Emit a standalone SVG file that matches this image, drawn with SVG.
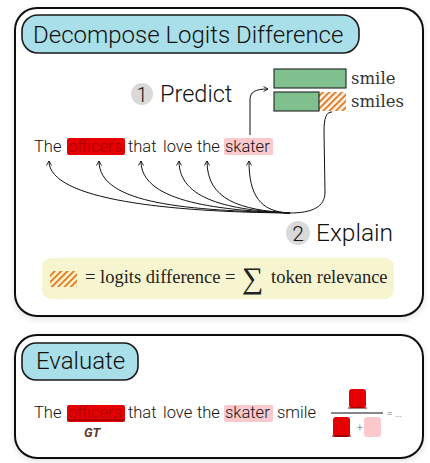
<svg xmlns="http://www.w3.org/2000/svg" width="430" height="463" viewBox="0 0 430 463">
<style>
.box{fill:#fff;stroke:#111;stroke-width:2}
.pill{fill:#a9dfe8;stroke:#1a1a1a;stroke-width:1.6}
.title{font-family:Roboto,"Liberation Sans",sans-serif;font-weight:300;fill:#111}
.sent{font-family:Roboto,"Liberation Sans",sans-serif;font-weight:300;font-size:16.5px;fill:#111}
.serif{font-family:"Liberation Serif","DejaVu Serif",serif;fill:#222}
.slab{font-family:"DejaVu Serif",serif;fill:#333}
.conn{fill:none;stroke:#111;stroke-width:1}
.num{fill:#d9d9d9}
</style>
<defs>
<pattern id="hatch" patternUnits="userSpaceOnUse" width="4.5" height="4.5" patternTransform="rotate(45)">
<line x1="1" y1="0" x2="1" y2="4.5" stroke="#e07b24" stroke-width="1.9"/>
</pattern>
<marker id="ah" markerWidth="6" markerHeight="6" refX="5" refY="3" orient="auto" markerUnits="userSpaceOnUse">
<path d="M0.5,0.5 L5,3 L0.5,5.5" fill="none" stroke="#111" stroke-width="0.9"/>
</marker>
<filter id="sh" x="-5%" y="-5%" width="110%" height="115%">
<feDropShadow dx="0" dy="2" stdDeviation="3" flood-color="#000" flood-opacity="0.12"/>
</filter>
</defs>

<g id="panel-decompose">
<rect class="box" x="15" y="8" width="408" height="308" rx="22" filter="url(#sh)"/>
</g>
<g id="title-decompose">
<rect class="pill" x="22" y="15" width="337" height="38" rx="16"/>
<text class="title" x="33" y="43" font-size="24">Decompose Logits Difference</text>
</g>

<g id="step-predict">
<circle class="num" cx="142" cy="94" r="11"/>
<text class="title" x="142" y="101.5" font-size="20" text-anchor="middle" fill="#333">1</text>
<text class="title" x="160" y="102" font-size="23.5">Predict</text>
</g>

<g id="bars">
<rect x="274" y="69" width="72" height="19" fill="#80c08f" stroke="#222" stroke-width="1.1"/>
<rect x="319" y="92" width="27" height="19" fill="#fdf3ea"/>
<rect x="319" y="92" width="27" height="19" fill="url(#hatch)"/>
<rect x="274" y="92" width="45" height="19" fill="#80c08f" stroke="#222" stroke-width="1.1"/>
<text class="slab" x="351" y="84" font-size="16.5">smile</text>
<text class="slab" x="351" y="107" font-size="16.5">smiles</text>
</g>

<g id="sentence-1">
<rect x="67" y="138" width="58" height="17" rx="2" fill="#e60000"/>
<rect x="224" y="138" width="49" height="17" rx="2" fill="#f9c9cd"/>
<text class="sent" y="152"><tspan x="34">The</tspan><tspan x="68" fill="#a80000">officers</tspan><tspan x="128">that</tspan><tspan x="163">love</tspan><tspan x="197">the</tspan><tspan x="225">skater</tspan></text>
</g>

<g id="step-explain">
<circle class="num" cx="298" cy="233" r="12"/>
<text class="title" x="298" y="241" font-size="21" text-anchor="middle" fill="#333">2</text>
<text class="title" x="316" y="241" font-size="24.5">Explain</text>
</g>

<g id="connectors">
<path class="conn" d="M250,135 L250,100 C250,92 255,89 268,89" marker-end="url(#ah)"/>
<path class="conn" d="M332,112 C326,112 324,118 324,132 L325,192 C325,207 312,213 290,213"/>
<path class="conn" d="M290,213 C170,212 49,200 49,161" marker-end="url(#ah)"/>
<path class="conn" d="M290,213 C190,210 99,205 99,161" marker-end="url(#ah)"/>
<path class="conn" d="M290,213 C210,210 141,200 141,161" marker-end="url(#ah)"/>
<path class="conn" d="M290,213 C230,210 179,200 179,161" marker-end="url(#ah)"/>
<path class="conn" d="M290,213 C240,210 207,200 207,161" marker-end="url(#ah)"/>
<path class="conn" d="M290,213 C260,212 249,195 249,161" marker-end="url(#ah)"/>
</g>

<g id="legend">
<rect x="42" y="258" width="352" height="41" rx="9" fill="#f6f5d0"/>
<rect x="50" y="271" width="27" height="16" fill="url(#hatch)"/>
<text class="serif" x="85" y="283" font-size="18.5" fill="#111">= logits difference =</text>
<text class="serif" x="242" y="288" font-size="30" fill="#111">∑</text>
<text class="serif" x="271" y="283" font-size="18.5" fill="#111">token relevance</text>
</g>

<g id="panel-evaluate">
<rect class="box" x="15" y="335" width="408" height="123" rx="22" filter="url(#sh)"/>
</g>
<g id="title-evaluate">
<rect class="pill" x="22" y="343" width="116" height="37" rx="14"/>
<text class="title" x="36" y="369" font-size="24">Evaluate</text>
</g>

<g id="sentence-2">
<rect x="67" y="405" width="58" height="17" rx="2" fill="#e60000"/>
<rect x="224" y="405" width="49" height="17" rx="2" fill="#f9c9cd"/>
<line x1="67" y1="420" x2="125" y2="420" stroke="#7a0000" stroke-width="1"/>
<text class="sent" y="418"><tspan x="34">The</tspan><tspan x="68" fill="#a80000">officers</tspan><tspan x="128">that</tspan><tspan x="163">love</tspan><tspan x="197">the</tspan><tspan x="225">skater</tspan><tspan x="277">smile</tspan></text>
<text x="84" y="437" font-family="Roboto,'Liberation Sans',sans-serif" font-weight="700" font-style="italic" font-size="13" fill="#5b3a2e">GT</text>
</g>

<g id="fraction">
<rect x="349" y="389" width="17" height="19" rx="3" fill="#e60000"/>
<line x1="348" y1="408" x2="367" y2="408" stroke="#5a0000" stroke-width="1"/>
<line x1="331" y1="413" x2="383" y2="413" stroke="#111" stroke-width="1"/>
<rect x="333" y="417" width="17" height="20" rx="3" fill="#e60000"/>
<line x1="332" y1="436" x2="351" y2="436" stroke="#5a0000" stroke-width="1"/>
<text x="357" y="431" font-family="Roboto,'Liberation Sans',sans-serif" font-size="10" fill="#999">+</text>
<rect x="364" y="417" width="17" height="20" rx="3" fill="#fbc9cc"/>
<text x="387" y="417" font-family="Roboto,'Liberation Sans',sans-serif" font-size="10" fill="#aaa">= …</text>
</g>
</svg>
